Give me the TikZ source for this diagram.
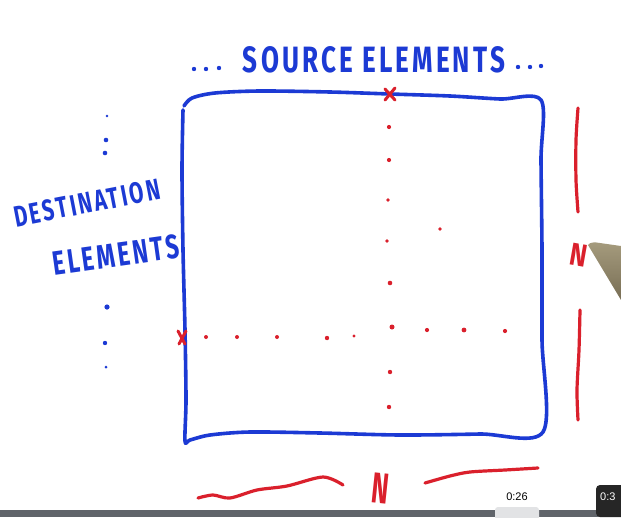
\documentclass[tikz,border=0pt]{standalone}
\usepackage{fontspec}
\setmainfont{Fira Sans}
\newfontfamily\uifont{Liberation Sans}
\newfontfamily\handfont[LetterSpace=12]{Fira Sans}
\definecolor{penblue}{RGB}{28,58,212}
\definecolor{penred}{RGB}{218,32,44}
\definecolor{bargray}{RGB}{96,100,106}
\definecolor{thumbgray}{RGB}{226,227,229}
\definecolor{tipdark}{RGB}{38,38,38}
\definecolor{pentan}{RGB}{165,155,125}
\definecolor{pentandark}{RGB}{120,110,85}
\tikzset{
  bluepen/.style={draw=penblue, line width=3.6pt, line cap=round, line join=round},
  redpen/.style={draw=penred, line width=3.2pt, line cap=round, line join=round},
  redx/.style={draw=penred, line width=3pt, line cap=round},
  reddot/.style={fill=penred, draw=none},
  bluedot/.style={fill=penblue, draw=none},
  bluetext/.style={text=penblue, inner sep=0pt, font=\handfont\bfseries},
  redtext/.style={text=penred, inner sep=0pt, font=\bfseries},
  uitext/.style={inner sep=0pt, font=\uifont\fontsize{11}{13}\selectfont}
}
\begin{document}
\begin{tikzpicture}[x=1pt, y=-1pt]
\useasboundingbox (0,0) rectangle (621,517);
\fill[white] (0,0) rectangle (621,517);

% title
\node[bluetext] (src) at (374,60) {\resizebox{262pt}{26pt}{SOURCE ELEMENTS}};
\foreach \x/\y in {194/69,206/69,219/68,518/67,530/67,541/66} \fill[bluedot] (\x,\y) circle (2.2);

% left labels
\node[bluetext, rotate=11] (dest) at (87,203) {\resizebox{148pt}{21pt}{DESTINATION}};
\node[bluetext, rotate=8] (elem) at (116,255) {\resizebox{128pt}{24pt}{ELEMENTS}};
\fill[bluedot] (107,116) circle (1.4);
\fill[bluedot] (106,140) circle (2.3);
\fill[bluedot] (105,153) circle (2.3);
\fill[bluedot] (107,307) circle (2.6);
\fill[bluedot] (105,343) circle (2.2);
\fill[bluedot] (106,367) circle (1.5);

% matrix box
\draw[bluepen] plot[smooth, tension=0.5] coordinates {
  (184,106) (192,98) (215,93) (260,91) (330,92) (390,94) (450,96) (500,99) (541,100)
  (541,160) (542,250) (542,340) (543,432)
  (480,434) (400,435) (320,433) (250,432) (210,435) (190,440) (185,441)
  (186,400) (185,330) (183,250) (182,170) (183,110) };

% red crosses
\draw[redx] (385,89) -- (395,100) (395,88) -- (385,100);
\draw[redx] (178,331) -- (185,344) (186,331) -- (179,344);

% vertical dots
\foreach \x/\y/\r in {389/127/2.1,389/160/2.1,388/200/1.8,387/241/1.8,390/283/2.3,392/327/2.5,390/372/2.2,389/407/2.2}
  \fill[reddot] (\x,\y) circle (\r);
\fill[reddot] (440,229) circle (1.9);
% horizontal dots
\foreach \x/\y/\r in {206/337/2,237/337/2,277/337/2,327/338/2.2,354/336/1.7,427/330/2.1,464/330/2.4,505/331/2.1}
  \fill[reddot] (\x,\y) circle (\r);

% right dimension
\draw[redpen] plot[smooth] coordinates {(578,108) (576,140) (576,180) (578,212)};
\draw[redpen] plot[smooth] coordinates {(580,310) (579,350) (577,390) (578,420)};
\node[redtext, rotate=-10] (nright) at (579,255) {\resizebox{17pt}{22pt}{N}};

% bottom dimension
\draw[redpen] plot[smooth] coordinates {(198,498) (213,495) (230,498) (257,490) (287,486) (323,477) (343,485)};
\draw[redpen] plot[smooth] coordinates {(425,483) (450,476) (470,472) (505,470) (538,468)};
\node[redtext, rotate=-6] (nbottom) at (381,488) {\resizebox{17pt}{30pt}{N}};

% pen
\shade[top color=pentan, bottom color=pentandark] (588,245) .. controls (590,242) and (595,242) .. (600,243) -- (621,246) -- (621,300) -- cycle;

% video bar
\fill[bargray] (0,510) rectangle (621,517);
\fill[thumbgray, rounded corners=3pt] (495,507) rectangle (539,520);
\node[uitext] (t1) at (517,497) {0:26};
\fill[tipdark, rounded corners=4pt] (596,485) rectangle (630,517);
\node[uitext, text=white, anchor=west] (t2) at (600,497) {0:3};
\end{tikzpicture}
\end{document}
